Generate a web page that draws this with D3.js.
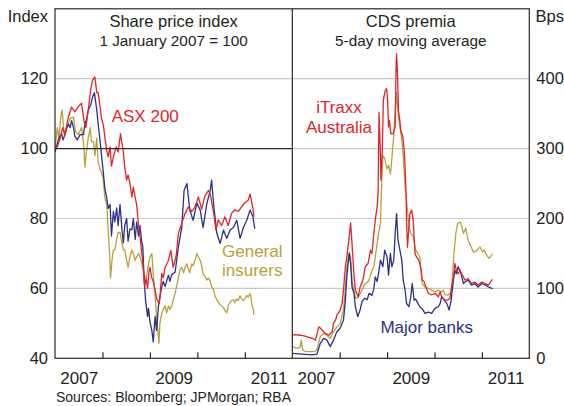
<!DOCTYPE html>
<html><head><meta charset="utf-8">
<script src="https://cdn.jsdelivr.net/npm/d3@7"></script>
<style>
body{margin:0;background:#fff}
svg{display:block}
text{font-family:"Liberation Sans",Arial,Helvetica,sans-serif;fill:#231f20}
</style>
</head><body>
<svg id="chart" width="564" height="406"></svg>
<script>
// ---------- DATA (decimal year, value) ----------
// Left panel: share price indices, 1 January 2007 = 100
const asx200 = [[2007.00,100],[2007.05,100.5],[2007.11,103],[2007.16,106],[2007.21,104],[2007.28,109],[2007.35,111.9],[2007.42,110.5],[2007.49,112],[2007.56,113],[2007.61,108],[2007.65,106],[2007.70,111],[2007.75,116.7],[2007.79,119.5],[2007.84,120.5],[2007.88,116],[2007.91,116],[2007.95,111.9],[2007.98,108.6],[2008.02,106.7],[2008.05,103.3],[2008.09,99.5],[2008.12,97.6],[2008.16,100.5],[2008.19,95],[2008.23,97.6],[2008.29,100.5],[2008.33,99],[2008.38,104.3],[2008.44,99],[2008.47,94.7],[2008.51,91],[2008.54,92.5],[2008.58,90],[2008.62,86.2],[2008.65,89],[2008.69,86],[2008.72,84],[2008.76,78],[2008.79,75],[2008.83,70],[2008.86,66],[2008.89,60.5],[2008.92,63],[2008.95,60],[2008.98,64.7],[2009.00,66],[2009.04,63],[2009.07,62],[2009.11,59.5],[2009.14,57],[2009.20,55.7],[2009.25,64.3],[2009.28,63],[2009.32,66],[2009.39,68],[2009.44,70.9],[2009.49,66],[2009.55,69],[2009.60,75.7],[2009.67,78.6],[2009.74,81.4],[2009.81,83.3],[2009.88,82],[2009.95,83.3],[2010.02,86.2],[2010.09,82.7],[2010.16,86.5],[2010.23,88],[2010.27,87],[2010.34,82],[2010.39,76.7],[2010.44,79.6],[2010.51,78],[2010.58,80.5],[2010.65,78],[2010.72,81.5],[2010.79,82.5],[2010.86,82],[2010.93,83.3],[2011.00,84.5],[2011.07,85.2],[2011.11,87],[2011.17,83],[2011.19,80.5]];

const majorBanksShares = [[2007.00,99],[2007.04,101],[2007.08,103],[2007.14,104.3],[2007.17,102.5],[2007.21,104],[2007.25,106],[2007.28,107],[2007.32,106],[2007.35,108],[2007.39,106],[2007.42,103.5],[2007.47,102.5],[2007.53,104],[2007.60,104],[2007.63,107],[2007.67,108.6],[2007.70,111],[2007.75,112.4],[2007.79,114.7],[2007.83,116],[2007.88,111],[2007.91,107],[2007.95,102],[2007.98,98],[2008.02,92.9],[2008.05,88.6],[2008.09,86],[2008.12,82.9],[2008.16,84],[2008.19,75],[2008.23,82],[2008.26,79],[2008.30,83],[2008.33,78],[2008.37,84],[2008.41,77],[2008.44,73],[2008.47,78],[2008.51,80],[2008.54,73.5],[2008.58,77],[2008.62,76.8],[2008.65,80],[2008.69,74],[2008.72,79],[2008.76,75],[2008.79,78],[2008.83,73],[2008.85,72],[2008.88,62],[2008.91,56.5],[2008.95,52],[2008.97,54.3],[2009.00,50.5],[2009.04,48],[2009.07,44.7],[2009.11,52],[2009.14,48],[2009.18,55],[2009.20,56.7],[2009.25,60.5],[2009.28,62],[2009.32,60.5],[2009.35,62],[2009.39,63.8],[2009.42,62],[2009.46,64],[2009.53,64.6],[2009.60,71.9],[2009.67,77.4],[2009.72,88],[2009.78,90],[2009.84,82.4],[2009.91,79.5],[2009.99,84.4],[2010.06,82.4],[2010.12,77.4],[2010.20,84.3],[2010.27,88],[2010.30,91],[2010.34,84.3],[2010.41,75.7],[2010.48,72.9],[2010.55,76.7],[2010.62,74.3],[2010.69,76.7],[2010.76,77.4],[2010.83,79.5],[2010.90,74.3],[2010.97,77.4],[2011.04,79.5],[2011.11,82.4],[2011.17,80.5],[2011.21,77.1]];

const insurersShares = [[2007.00,100],[2007.05,106],[2007.08,103],[2007.13,110],[2007.15,111],[2007.19,104.3],[2007.25,106],[2007.32,108.6],[2007.39,109],[2007.43,105],[2007.49,104],[2007.56,106],[2007.61,100.5],[2007.63,94.7],[2007.67,100],[2007.70,103],[2007.74,106],[2007.77,102],[2007.81,102],[2007.84,98],[2007.88,103],[2007.91,96],[2007.96,93.8],[2008.01,91.9],[2008.03,89],[2008.05,86],[2008.09,84],[2008.12,77],[2008.15,70],[2008.17,63],[2008.20,68],[2008.23,71],[2008.26,71],[2008.30,74],[2008.33,76],[2008.37,76],[2008.41,73],[2008.44,71],[2008.47,71],[2008.51,68],[2008.54,66],[2008.58,69],[2008.62,71],[2008.65,70],[2008.69,68],[2008.72,69],[2008.76,70],[2008.79,69],[2008.83,67],[2008.86,65],[2008.90,63.3],[2008.93,63.3],[2008.97,67],[2009.00,69],[2009.04,70],[2009.07,64.3],[2009.11,57.6],[2009.14,51.9],[2009.19,44.3],[2009.21,50],[2009.25,52.9],[2009.28,54],[2009.32,55],[2009.35,53],[2009.39,55],[2009.42,54],[2009.46,55],[2009.49,56.7],[2009.53,58.5],[2009.56,60.5],[2009.60,63],[2009.63,65.2],[2009.67,66],[2009.71,64.5],[2009.74,66],[2009.78,67],[2009.81,65.5],[2009.84,64.5],[2009.88,67],[2009.91,66.5],[2009.95,68],[2009.99,70],[2010.02,69],[2010.06,68],[2010.09,66.5],[2010.12,64],[2010.16,63.5],[2010.20,62.4],[2010.23,63],[2010.27,62],[2010.30,60.5],[2010.34,59.5],[2010.37,58],[2010.41,56.7],[2010.44,56],[2010.48,55.4],[2010.51,55],[2010.55,54.5],[2010.58,53.7],[2010.62,53],[2010.65,55],[2010.69,56],[2010.72,56.5],[2010.76,56.7],[2010.79,56],[2010.83,57],[2010.86,56.5],[2010.90,57.9],[2010.93,57],[2010.97,56.5],[2011.00,57],[2011.04,58],[2011.07,57.5],[2011.11,58.5],[2011.13,57.5],[2011.15,55],[2011.18,54],[2011.19,52.4]];

// Right panel: CDS premia, bps, 5-day moving average
const itraxxCDS = [[2007.00,33],[2007.06,34],[2007.16,33],[2007.27,31.7],[2007.35,30],[2007.44,28],[2007.49,26],[2007.54,40],[2007.56,45],[2007.61,42],[2007.66,38],[2007.69,36],[2007.77,33],[2007.84,38],[2007.87,50],[2007.92,56],[2007.94,61.8],[2008.01,69],[2008.05,79],[2008.08,97.6],[2008.12,131],[2008.15,145],[2008.20,173.8],[2008.23,193.8],[2008.26,164],[2008.30,121],[2008.33,97.6],[2008.39,88],[2008.43,102],[2008.49,111.9],[2008.54,131],[2008.60,136],[2008.65,154.7],[2008.68,150],[2008.72,178.6],[2008.75,197.6],[2008.79,216.7],[2008.81,236],[2008.83,352],[2008.86,290],[2008.87,254.7],[2008.90,300],[2008.92,369],[2008.96,383],[2008.99,385.7],[2009.01,370],[2009.03,331],[2009.05,340],[2009.08,321],[2009.13,321],[2009.17,331],[2009.19,420],[2009.20,435.7],[2009.22,407],[2009.24,354],[2009.26,345],[2009.29,326],[2009.33,318],[2009.36,297.6],[2009.38,273.8],[2009.40,235.7],[2009.41,197.6],[2009.43,159],[2009.48,207],[2009.52,212],[2009.55,198],[2009.59,150],[2009.62,145],[2009.67,140.5],[2009.72,126],[2009.74,112],[2009.78,110],[2009.84,97.6],[2009.87,93],[2009.94,90.5],[2010.01,93],[2010.08,88],[2010.12,95],[2010.15,88],[2010.22,83.3],[2010.28,83.3],[2010.33,86],[2010.36,102],[2010.40,116.6],[2010.43,135.7],[2010.46,126],[2010.50,121],[2010.54,126],[2010.57,121],[2010.61,116.6],[2010.64,112],[2010.71,114],[2010.78,107],[2010.85,109],[2010.92,104.8],[2011.00,109],[2011.07,107],[2011.14,104.8],[2011.21,112],[2011.22,113]];

const insurersCDS = [[2007.00,16.7],[2007.08,15],[2007.16,15],[2007.19,26],[2007.22,12],[2007.27,10],[2007.37,9.5],[2007.48,10],[2007.52,12],[2007.59,31],[2007.66,35.7],[2007.73,33],[2007.80,28.6],[2007.87,38],[2007.94,45],[2008.01,50],[2008.08,69],[2008.12,102],[2008.15,131],[2008.20,152],[2008.23,145],[2008.26,112],[2008.30,97.6],[2008.34,85.7],[2008.40,88],[2008.47,97.6],[2008.54,107],[2008.61,110],[2008.67,124],[2008.72,131],[2008.75,145],[2008.79,164],[2008.82,178.6],[2008.86,193],[2008.88,240],[2008.91,290],[2008.95,286],[2009.00,271],[2009.03,276],[2009.07,264],[2009.10,286],[2009.14,319],[2009.17,352],[2009.20,380],[2009.24,344],[2009.27,331],[2009.31,312],[2009.34,288],[2009.38,245],[2009.41,226],[2009.46,190],[2009.50,178.6],[2009.55,175],[2009.60,155],[2009.65,150],[2009.69,145],[2009.74,107],[2009.80,102],[2009.87,100],[2009.94,97.6],[2010.01,95],[2010.08,97.6],[2010.15,95],[2010.19,97.6],[2010.22,91],[2010.29,90.5],[2010.35,95],[2010.38,116.6],[2010.41,150],[2010.45,178.6],[2010.49,193],[2010.54,195],[2010.57,190],[2010.61,178.6],[2010.66,186],[2010.71,169],[2010.77,159.5],[2010.82,152],[2010.89,154],[2010.96,159.5],[2011.01,152],[2011.05,155],[2011.10,147.6],[2011.15,143],[2011.19,146],[2011.22,150]];

const majorBanksCDS = [[2007.00,7],[2007.20,6],[2007.42,4.8],[2007.52,6],[2007.59,21.4],[2007.66,28.6],[2007.73,26],[2007.80,16.7],[2007.87,26],[2007.94,38],[2008.01,42.9],[2008.08,54.7],[2008.12,83.3],[2008.15,116.6],[2008.20,150],[2008.23,135.7],[2008.26,102],[2008.30,93],[2008.33,73.8],[2008.38,59.5],[2008.43,69],[2008.47,81],[2008.53,86],[2008.58,84],[2008.62,93],[2008.68,90],[2008.72,100],[2008.75,116.6],[2008.79,110],[2008.82,121.4],[2008.86,140.5],[2008.91,131],[2008.95,154.7],[2009.00,145],[2009.03,119],[2009.07,150],[2009.10,131],[2009.14,140],[2009.17,178.6],[2009.20,207],[2009.23,169],[2009.27,154.7],[2009.31,140.5],[2009.34,112],[2009.38,97.6],[2009.41,78.6],[2009.46,73.8],[2009.50,88],[2009.53,107],[2009.57,83],[2009.60,85],[2009.65,78.6],[2009.69,73.8],[2009.76,69],[2009.80,64.3],[2009.87,66],[2009.94,64.3],[2010.01,71.4],[2010.08,73.8],[2010.12,78.6],[2010.15,88],[2010.21,83],[2010.26,78.6],[2010.31,69],[2010.35,83],[2010.40,112],[2010.43,126],[2010.46,121],[2010.50,131],[2010.56,121],[2010.61,107],[2010.64,109],[2010.71,112],[2010.78,104.8],[2010.85,107],[2010.92,102],[2011.00,107],[2011.07,105],[2011.14,102],[2011.21,100],[2011.22,99]];

// Ticks / labels
const yearDomain = [2007, 2012];
const yearTicks = [2008, 2009, 2010, 2011];
const yearLabels = [2007, 2009, 2011];
const leftTicks = [40, 60, 80, 100, 120];
const rightTicks = [0, 100, 200, 300, 400];

// ---------- DRAW ----------
const C = {red:"#e1242b", navy:"#2e3088", gold:"#b9a13a", grid:"#cacaca", frame:"#2a2a2a", text:"#231f20"};
const svg = d3.select("#chart");
const L0 = 55, MID = 292.3, R1 = 529.3, TOP = 8.8, BOT = 358.3;

const xL = d3.scaleLinear(yearDomain, [L0, MID]);
const xR = d3.scaleLinear(yearDomain, [MID, R1]);
const yL = d3.scaleLinear([40, 140], [BOT, TOP]);
const yR = d3.scaleLinear([0, 500], [BOT, TOP]);

// clip paths
const defs = svg.append("defs");
defs.append("clipPath").attr("id","clipL").append("rect").attr("x",L0).attr("y",TOP).attr("width",MID-L0).attr("height",BOT-TOP);
defs.append("clipPath").attr("id","clipR").append("rect").attr("x",MID).attr("y",TOP).attr("width",R1-MID).attr("height",BOT-TOP);

// gridlines
const g = svg.append("g");
[60,80,120].forEach(v => g.append("line").attr("x1",L0).attr("x2",MID).attr("y1",yL(v)).attr("y2",yL(v)).attr("stroke",C.grid).attr("stroke-width",1.2));
[100,200,300,400].forEach(v => g.append("line").attr("x1",MID).attr("x2",R1).attr("y1",yR(v)).attr("y2",yR(v)).attr("stroke",C.grid).attr("stroke-width",1.2));

// lines
function drawLine(data, xs, ys, color, clip){
  const line = d3.line().x(d => xs(d[0])).y(d => ys(d[1]));
  svg.append("path").datum(data).attr("d", line).attr("fill","none")
    .attr("stroke", color).attr("stroke-width",1.3).attr("stroke-linejoin","round")
    .attr("clip-path", `url(#${clip})`);
}
drawLine(insurersShares, xL, yL, C.gold, "clipL");
drawLine(majorBanksShares, xL, yL, C.navy, "clipL");
drawLine(asx200, xL, yL, C.red, "clipL");
drawLine(insurersCDS, xR, yR, C.gold, "clipR");
drawLine(majorBanksCDS, xR, yR, C.navy, "clipR");
drawLine(itraxxCDS, xR, yR, C.red, "clipR");

// reference line 100 (left panel)
svg.append("line").attr("x1",L0).attr("x2",MID).attr("y1",yL(100)).attr("y2",yL(100)).attr("stroke",C.frame).attr("stroke-width",1.2);

// frame
svg.append("rect").attr("x",L0).attr("y",TOP).attr("width",R1-L0).attr("height",BOT-TOP)
  .attr("fill","none").attr("stroke",C.frame).attr("stroke-width",1.2);
svg.append("line").attr("x1",MID).attr("x2",MID).attr("y1",TOP).attr("y2",BOT).attr("stroke",C.frame).attr("stroke-width",1.2);

// y axes
const axL = svg.append("g").attr("transform",`translate(${L0},0)`)
  .call(d3.axisLeft(yL).tickValues(leftTicks).tickSize(0).tickPadding(7));
const axR = svg.append("g").attr("transform",`translate(${R1},0)`)
  .call(d3.axisRight(yR).tickValues(rightTicks).tickSize(0).tickPadding(7));
[axL, axR].forEach(a => { a.select(".domain").remove(); a.selectAll("text").attr("font-size",16.5).attr("fill",C.text).style("font-family",null); });

// x axes: inner tick marks + centred year labels
[[xL],[xR]].forEach(([xs]) => {
  const t = svg.append("g").attr("transform",`translate(0,${BOT})`)
    .call(d3.axisBottom(xs).tickValues(yearTicks).tickSizeInner(-6).tickSizeOuter(0).tickFormat(""));
  t.select(".domain").remove();
  t.selectAll("line").attr("stroke",C.frame).attr("stroke-width",1.2);
  const lab = svg.append("g").attr("transform",`translate(0,${BOT})`)
    .call(d3.axisBottom(xs).tickValues(yearLabels.map(y => y + 0.5)).tickSize(0).tickPadding(13.3).tickFormat((d) => String(Math.floor(d))));
  lab.select(".domain").remove();
  lab.selectAll("text").attr("font-size",17).attr("fill",C.text);
});

// axis units
svg.append("text").attr("x",48).attr("y",21.7).attr("text-anchor","end").attr("font-size",16.5).text("Index");
svg.append("text").attr("x",535.5).attr("y",21.7).attr("text-anchor","start").attr("font-size",16.5).text("Bps");

// panel titles
const cl = (L0+MID)/2, cr = (MID+R1)/2;
svg.append("text").attr("x",cl).attr("y",27.3).attr("text-anchor","middle").attr("font-size",16.5).text("Share price index");
svg.append("text").attr("x",cl).attr("y",45.7).attr("text-anchor","middle").attr("font-size",15.3).text("1 January 2007 = 100");
svg.append("text").attr("x",cr).attr("y",27.3).attr("text-anchor","middle").attr("font-size",16.5).text("CDS premia");
svg.append("text").attr("x",cr).attr("y",45.7).attr("text-anchor","middle").attr("font-size",15.3).text("5-day moving average");

// series labels
function lab(x, y, txt, color, anchor){
  svg.append("text").attr("x",x).attr("y",y).attr("text-anchor",anchor||"start").attr("font-size",17).style("fill",color).text(txt);
}
lab(111.7, 121.7, "ASX 200", C.red);
lab(222, 257, "General", C.gold);
lab(222, 276, "insurers", C.gold);
lab(339, 113.3, "iTraxx", C.red, "middle");
lab(339, 133.3, "Australia", C.red, "middle");
lab(426.7, 332.7, "Major banks", C.navy, "middle");

// source
svg.append("text").attr("x",56).attr("y",402).attr("font-size",14).text("Sources: Bloomberg; JPMorgan; RBA");
</script>
</body></html>
